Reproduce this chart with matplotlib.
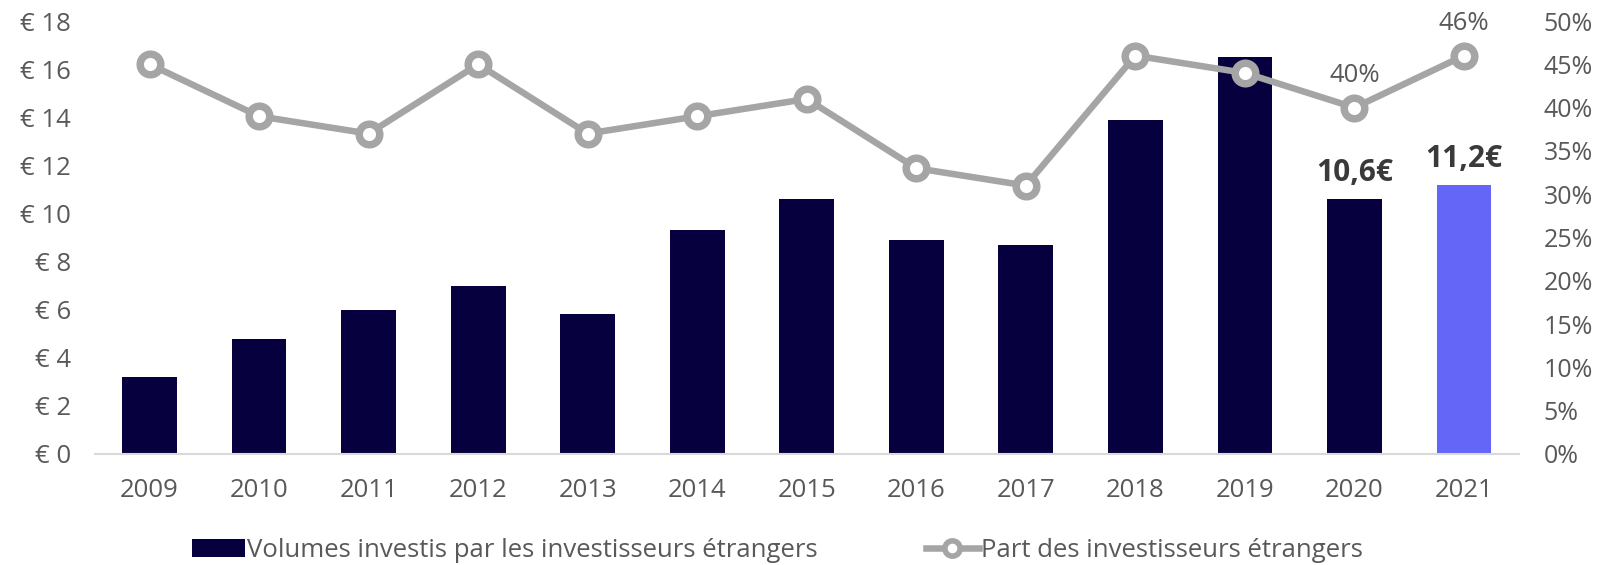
import matplotlib
matplotlib.use('Agg')
import matplotlib.pyplot as plt
from matplotlib.patches import Patch
from matplotlib.lines import Line2D
from matplotlib.ticker import FuncFormatter

plt.rcParams['font.family'] = ['Open Sans', 'DejaVu Sans']

# data
years = ['2009', '2010', '2011', '2012', '2013', '2014', '2015',
         '2016', '2017', '2018', '2019', '2020', '2021']
volumes = [3.2, 4.8, 6.0, 7.0, 5.8, 9.3, 10.6, 8.9, 8.7, 13.9, 16.5, 10.6, 11.2]
part = [45, 39, 37, 45, 37, 39, 41, 33, 31, 46, 44, 40, 46]
bar_labels = {11: '10,6€', 12: '11,2€'}
pct_labels = {11: '40%', 12: '46%'}

NAVY = '#07003F'
BLUE = '#6366F6'
GREY_LINE = '#A5A5A5'
TEXT = '#595959'
FS = 18.5

fig = plt.figure(figsize=(15.98, 5.65), dpi=100)
ax = fig.add_axes([0.0593, 0.1965, 0.8911, 0.7663])
ax2 = ax.twinx()

x = list(range(len(years)))
colors = [NAVY] * (len(years) - 1) + [BLUE]
ax.bar(x, volumes, width=0.5, color=colors, zorder=2)
for i, txt in bar_labels.items():
    ax.text(i, volumes[i] + 0.45, txt, ha='center', va='bottom',
            fontsize=21.5, fontweight='bold', color='#3A3A3A')

ax2.plot(x, part, color=GREY_LINE, lw=4.7, marker='o', ms=14.8,
         mfc='white', mec=GREY_LINE, mew=5.4, zorder=3)
for i, txt in pct_labels.items():
    ax2.text(i, part[i] + 2.3, txt, ha='center', va='bottom',
             fontsize=FS, color=TEXT)

ax.set_xlim(-0.5, len(years) - 0.5)
ax.set_ylim(0, 18)
ax.set_yticks(range(0, 19, 2))
ax.yaxis.set_major_formatter(FuncFormatter(lambda v, p: f'€ {v:.0f}'))
ax2.set_ylim(0, 50)
ax2.set_yticks(range(0, 51, 5))
ax2.yaxis.set_major_formatter(FuncFormatter(lambda v, p: f'{v:.0f}%'))

ax.set_xticks(x)
ax.set_xticklabels(years)
ax.tick_params(axis='x', length=0, pad=17, labelsize=FS, labelcolor=TEXT)
ax.tick_params(axis='y', length=0, pad=17, labelsize=FS, labelcolor=TEXT)
ax2.tick_params(axis='y', length=0, pad=18, labelsize=18, labelcolor=TEXT)

for a in (ax, ax2):
    for s in a.spines.values():
        s.set_visible(False)
ax.spines['bottom'].set_visible(True)
ax.spines['bottom'].set_color('#D9D9D9')
ax.spines['bottom'].set_linewidth(1.5)

handles = [Patch(facecolor=NAVY, edgecolor='none'),
           Line2D([], [], color=GREY_LINE, lw=4.7, marker='o', ms=11,
                  mfc='white', mec=GREY_LINE, mew=4)]
labels = ['Volumes investis par les investisseurs étrangers',
          'Part des investisseurs étrangers']
fig.legend(handles, labels, loc='center', bbox_to_anchor=(0.4866, 0.026),
           ncol=2, frameon=False, fontsize=FS, labelcolor=TEXT,
           handlelength=2.05, handletextpad=0.1, columnspacing=4.2,
           borderpad=0, borderaxespad=0)

fig.savefig('out.png', dpi=100)
